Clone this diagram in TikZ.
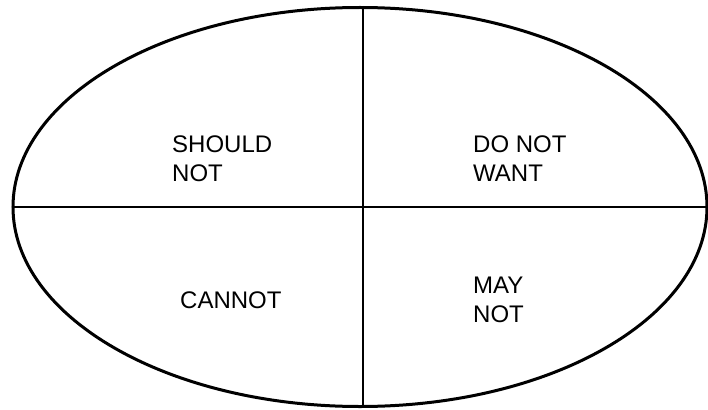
\documentclass[tikz,border=0pt]{standalone}
\usepackage{fontspec}
\setmainfont{Liberation Sans}
\usetikzlibrary{shapes.geometric}
\begin{document}
\begin{tikzpicture}[x=1pt,y=-1pt,
  outline/.style={draw=black,line width=3pt},
  divider/.style={draw=black,line width=2.6pt},
  label/.style={inner sep=0pt,anchor=north west,align=left,font=\fontsize{24}{29}\selectfont}]
\useasboundingbox (0,0) rectangle (708,409);
\node[ellipse,outline,minimum width=694pt,minimum height=399pt,inner sep=0pt] (e) at (360,207) {};
\draw[divider] (e.west) -- (e.east);
\draw[divider] ([xshift=3pt]e.north) -- ([xshift=3pt]e.south);
\node[label] (sn) at (172,136) {SHOULD\\NOT};
\node[label] (dw) at (473,136) {DO NOT\\WANT};
\node[label] (cn) at (180,292) {CANNOT};
\node[label] (mn) at (473,277) {MAY\\NOT};
\end{tikzpicture}
\end{document}
